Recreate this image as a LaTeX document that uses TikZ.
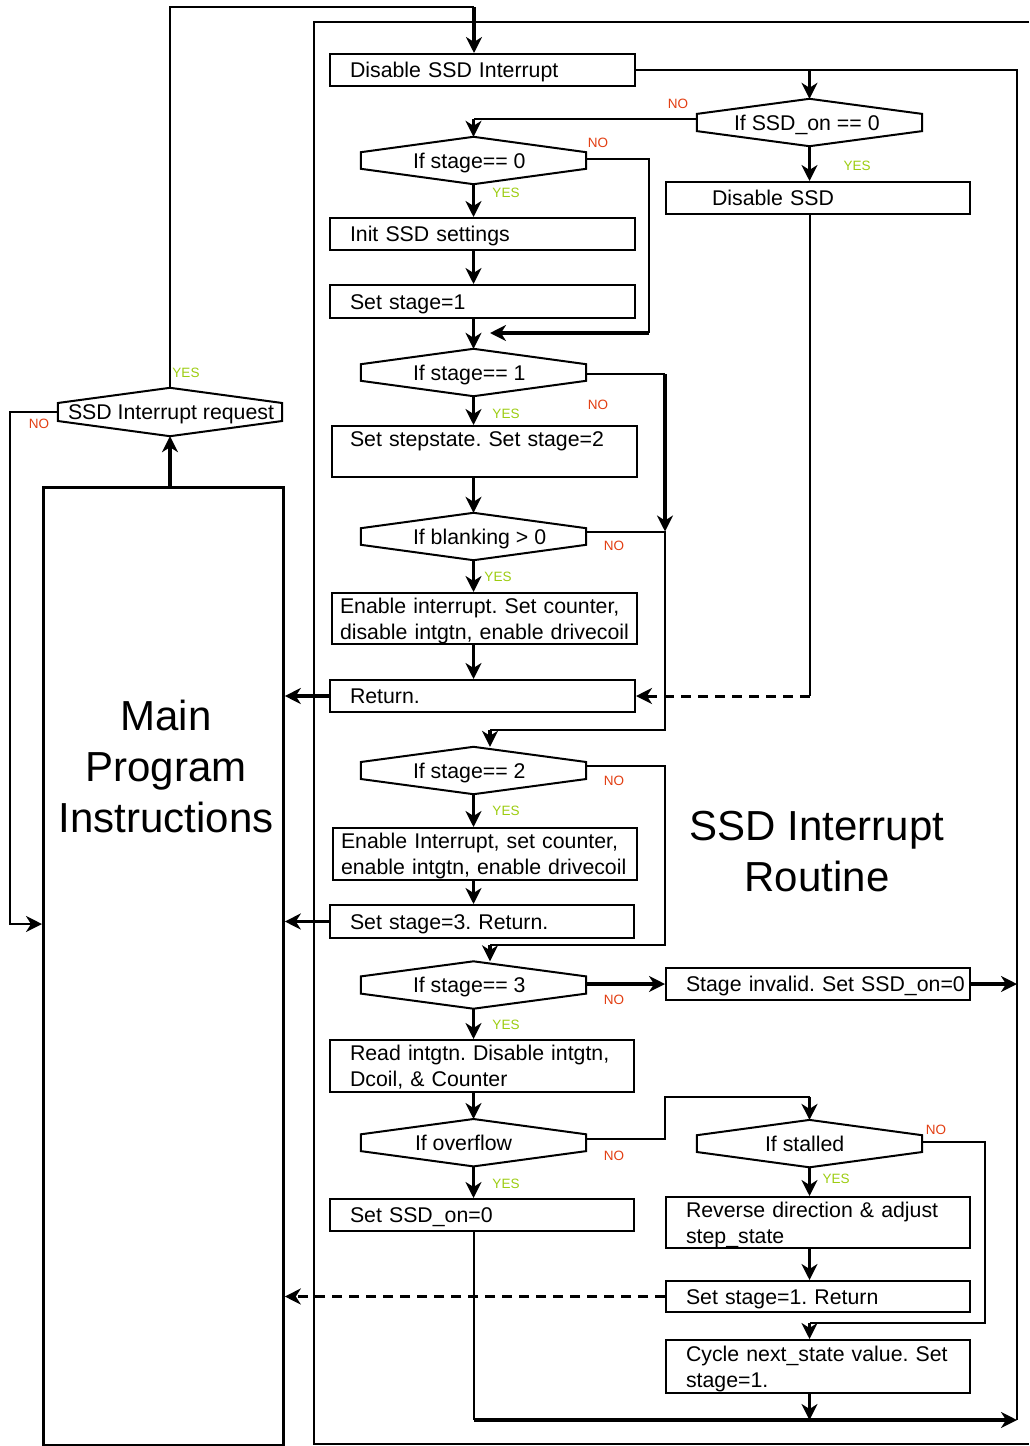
\documentclass[tikz,border=0pt]{standalone}
\usepackage{fontspec}
\setmainfont{Liberation Sans}
\usetikzlibrary{arrows.meta,calc}
\definecolor{nored}{RGB}{226,62,18}
\definecolor{yesgreen}{RGB}{156,204,16}
\frenchspacing
\newcommand{\hexdraw}[2]{%
  \draw[line width=2pt] (#1.north) -- ([yshift=#2]#1.east) -- ([yshift=-#2]#1.east) -- (#1.south) -- ([yshift=-#2]#1.west) -- ([yshift=#2]#1.west) -- cycle;}
\begin{document}
\begin{tikzpicture}[x=1pt,y=-1pt,
  every node/.append style={font=\fontsize{21.3}{26}\selectfont},
  box/.style={draw, line width=2pt, rectangle, anchor=north west, inner ysep=0pt, align=left, text height=15.5pt},
  one/.style={text depth=0pt},
  two/.style={text depth=26pt},
  bx/.style n args={3}{minimum width=#1pt, inner xsep=#2pt, text width=#3pt},
  hexn/.style={minimum width=225pt, minimum height=47pt, inner sep=0pt},
  hlab/.style={anchor=west, inner sep=0pt, text height=15.5pt, text depth=0pt},
  ln/.style={line width=2pt},
  tip/.style={-{Stealth[length=16pt,width=16pt,inset=5pt]}},
  arr/.style={line width=3.2pt, tip},
  larr/.style={line width=2.4pt, tip},
  dsh/.style={line width=3pt, dash pattern=on 10pt off 7pt, tip},
  yes/.style={font=\fontsize{13.5}{16}\selectfont, text=yesgreen, inner sep=0pt},
  no/.style={font=\fontsize{13.5}{16}\selectfont, text=nored, inner sep=0pt},
  big/.style={font=\fontsize{42}{51}\selectfont, align=center, inner sep=0pt}
]
\useasboundingbox (0,0) rectangle (1029,1446);

% routine frame
\draw[ln] (1029,22) -- (314,22) -- (314,1444) -- (1029,1444);

% main program box
\node[draw, line width=2.8pt, minimum width=240pt, minimum height=958pt, anchor=north west, inner sep=0pt] (mn) at (42,486) {};
\node[big] (mnt) at (166,766) {Main\\Program\\Instructions};
\node[big] (rtt) at (817,852) {SSD Interrupt\\Routine};

% hexagon nodes
\node[hexn, minimum width=224pt, minimum height=48pt] (sir) at (170,412) {};
\node[hexn] (hon) at (809.5,122.5) {};
\node[hexn] (s0) at (473.5,160.5) {};
\node[hexn] (s1) at (473.5,372.5) {};
\node[hexn] (blk) at (473.5,536.5) {};
\node[hexn] (s2) at (473.5,770.5) {};
\node[hexn] (s3) at (473.5,985) {};
\node[hexn] (ovf) at (473.5,1142.7) {};
\node[hexn] (stl) at (809.5,1143.6) {};
\hexdraw{sir}{9pt}
\hexdraw{hon}{8.6pt}
\hexdraw{s0}{8.3pt}
\hexdraw{s1}{8.3pt}
\hexdraw{blk}{8.3pt}
\hexdraw{s2}{8.5pt}
\hexdraw{s3}{8.6pt}
\hexdraw{ovf}{8.4pt}
\hexdraw{stl}{8.4pt}
\node[hlab] (sirt) at ([xshift=10pt]sir.west) {SSD Interrupt request};
\node[hlab] (hont) at ([xshift=37pt]hon.west) {If SSD\_on == 0};
\node[hlab] (s0t) at ([xshift=52pt]s0.west) {If stage== 0};
\node[hlab] (s1t) at ([xshift=52pt]s1.west) {If stage== 1};
\node[hlab] (blkt) at ([xshift=52pt]blk.west) {If blanking > 0};
\node[hlab] (s2t) at ([xshift=52pt]s2.west) {If stage== 2};
\node[hlab] (s3t) at ([xshift=52pt]s3.west) {If stage== 3};
\node[hlab] (ovft) at ([xshift=54pt]ovf.west) {If overflow};
\node[hlab] (stlt) at ([xshift=68pt]stl.west) {If stalled};

% boxes
\node[box, one, bx={305}{20}{265}, minimum height=32pt] (dsi) at (329,53) {Disable SSD Interrupt};
\node[box, one, bx={304}{46}{212}, minimum height=32pt] (dsd) at (665,181) {Disable SSD};
\node[box, one, bx={305}{20}{265}, minimum height=32pt] (ini) at (329,217) {Init SSD settings};
\node[box, one, bx={305}{20}{265}, minimum height=33pt] (st1) at (329,284) {Set stage=1};
\node[box, two, bx={305}{18}{269}, minimum height=51pt] (stp) at (331,425) {\mbox{Set stepstate. Set stage=2}};
\node[box, two, bx={305}{8}{289}, minimum height=51pt] (eni) at (331,592) {\mbox{Enable interrupt. Set counter,}\\\mbox{disable intgtn, enable drivecoil}};
\node[box, one, bx={305}{20}{265}, minimum height=32pt] (ret) at (329,679) {Return.};
\node[box, two, bx={304}{8}{288}, minimum height=52pt] (en2) at (332,827) {\mbox{Enable Interrupt, set counter,}\\\mbox{enable intgtn, enable drivecoil}};
\node[box, one, bx={304}{20}{264}, minimum height=33pt] (st3) at (329,904) {Set stage=3. Return.};
\node[box, one, bx={304}{20}{264}, minimum height=32pt] (inv) at (665,967) {\mbox{Stage invalid. Set SSD\_on=0}};
\node[box, two, bx={304}{20}{264}, minimum height=52pt] (rd) at (329,1039) {\mbox{Read intgtn. Disable intgtn,}\\\mbox{Dcoil, \& Counter}};
\node[box, one, bx={304}{20}{264}, minimum height=32pt] (son) at (329,1198) {Set SSD\_on=0};
\node[box, two, bx={304}{20}{264}, minimum height=51pt] (rev) at (665,1196) {\mbox{Reverse direction \& adjust}\\\mbox{step\_state}};
\node[box, one, bx={304}{20}{264}, minimum height=31pt] (sr1) at (665,1280) {Set stage=1. Return};
\node[box, two, bx={304}{20}{264}, minimum height=53pt] (cyc) at (665,1339) {\mbox{Cycle next\_state value. Set}\\\mbox{stage=1.}};

% helper coordinates
\coordinate (tp) at (474,7);
\coordinate (nl) at (10,924);
\coordinate (rt) at (1017,1420);
\coordinate (cx) at (665,0);
\coordinate (n0) at (649,333);
\coordinate (n0e) at (490,333);
\coordinate (n2) at (665,730);
\coordinate (n2e) at (490,730);
\coordinate (n3) at (665,945);
\coordinate (n3e) at (490,945);
\coordinate (n4) at (665,1097);
\coordinate (n5) at (985,1323);

% request loop
\draw[ln] (sir.north) |- (tp);
\draw[arr] (tp) -- (tp |- dsi.north);
\draw[larr] (sir.west) -| (nl) -- (nl -| mn.west);
\draw[arr] (sir.south |- mn.north) -- (sir.south);

% SSD_on branch
\draw[ln] (dsi.east) -| (rt);
\draw[arr] (hon.north |- dsi.east) -- (hon.north);
\draw[ln] ([yshift=3.5pt]hon.west) -- ([yshift=3.5pt]hon.west -| s0.north);
\draw[arr] ([yshift=3.5pt]hon.west -| s0.north) -- (s0.north);
\draw[arr] (hon.south) -- (hon.south |- dsd.north);
\draw[ln] (hon.south |- dsd.south) -- (hon.south |- ret.east);
\draw[dsh] (hon.south |- ret.east) -- (ret.east);

% stage 0
\draw[arr] (s0.south) -- (s0.south |- ini.north);
\draw[ln] ([yshift=1.5pt]s0.east) -| (n0);
\draw[arr] (n0) -- (n0e);
\draw[arr] (s0.south |- ini.south) -- (s0.south |- st1.north);
\draw[arr] (s0.south |- st1.south) -- (s1.north);

% stage 1
\draw[ln] ([yshift=-1.5pt]s1.east) -- ([yshift=-1.5pt]s1.east -| cx);
\draw[arr] ([yshift=-1.5pt]s1.east -| cx) -- ([yshift=5pt]blk.east -| cx);
\draw[arr] (s1.south) -- (s1.south |- stp.north);
\draw[arr] (s1.south |- stp.south) -- (blk.north);

% blanking
\draw[ln] ([yshift=5pt]blk.east) -| (n2) -- (n2e);
\draw[arr] (n2e) -- (n2e |- s2.north);
\draw[arr] (blk.south) -- (blk.south |- eni.north);
\draw[arr] (blk.south |- eni.south) -- (blk.south |- ret.north);
\draw[arr] (ret.west) -- (ret.west -| mn.east);

% stage 2
\draw[ln] ([yshift=4.5pt]s2.east) -| (n3) -- (n3e);
\draw[arr] (n3e) -- (n3e |- s3.north);
\draw[arr] (s2.south) -- (s2.south |- en2.north);
\draw[arr] (s2.south |- en2.south) -- (s2.south |- st3.north);
\draw[arr] (st3.west) -- (st3.west -| mn.east);

% stage 3
\draw[arr] (inv.west -| s3.east) -- (inv.west);
\draw[arr] (inv.east) -- (inv.east -| rt);
\draw[arr] (s3.south) -- (s3.south |- rd.north);
\draw[arr] (s3.south |- rd.south) -- (ovf.north);

% overflow
\draw[ln] ([yshift=3.5pt]ovf.east) -| (n4) -- (n4 -| stl.north);
\draw[arr] (n4 -| stl.north) -- (stl.north);
\draw[arr] (ovf.south) -- (ovf.south |- son.north);
\draw[ln] (ovf.south |- son.south) -- (ovf.south |- rt);
\draw[arr] (ovf.south |- rt) -- (rt);

% stalled
\draw[arr] (stl.south) -- (stl.south |- rev.north);
\draw[arr] (stl.south |- rev.south) -- (stl.south |- sr1.north);
\draw[ln] ([yshift=1.5pt]stl.east) -| (n5) -- (n5 -| stl.south);
\draw[arr] (n5 -| stl.south) -- (stl.south |- cyc.north);
\draw[dsh] (sr1.west) -- (sr1.west -| mn.east);
\draw[arr] (stl.south |- cyc.south) -- (stl.south |- rt);

% YES / NO labels
\node[yes] (y0) at (186,373) {YES};
\node[no] (nq) at (39,424) {NO};
\node[no] (nh) at (678,104) {NO};
\node[yes] (yh) at (857,166) {YES};
\node[no] (ns0) at (598,143) {NO};
\node[yes] (ys0) at (506,193) {YES};
\node[yes] (ys1) at (506,414) {YES};
\node[no] (ns1) at (598,405) {NO};
\node[no] (nb) at (614,546) {NO};
\node[yes] (yb) at (498,577) {YES};
\node[no] (ns2) at (614,781) {NO};
\node[yes] (ys2) at (506,811) {YES};
\node[no] (ns3) at (614,1000) {NO};
\node[yes] (ys3) at (506,1025) {YES};
\node[no] (no) at (614,1156) {NO};
\node[yes] (yo) at (506,1184) {YES};
\node[no] (nst) at (936,1130) {NO};
\node[yes] (yst) at (836,1179) {YES};
\end{tikzpicture}
\end{document}
